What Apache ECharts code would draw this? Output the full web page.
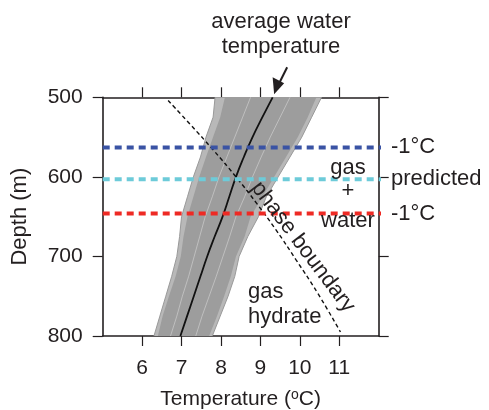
<!DOCTYPE html>
<html>
<head>
<meta charset="utf-8">
<script src="https://cdn.jsdelivr.net/npm/echarts@6/dist/echarts.min.js"></script>
<style>
  html, body { margin: 0; padding: 0; background: #fff; }
  #chart { width: 489px; height: 410px; }
</style>
</head>
<body>
<div id="chart"></div>
<script>
// depth grid (m) shared by the temperature profiles
var depths = [500, 525, 550, 575, 600, 625, 650, 675, 700, 725, 750, 775, 800]
// average water temperature profile (degC)
var meanTemp = [9.31, 9.05, 8.8, 8.58, 8.38, 8.21, 8.04, 7.84, 7.65, 7.48, 7.31, 7.14, 6.97]
// envelope of the dense gray ensemble of profiles
var bandLeft = [8.1, 7.98, 7.8, 7.62, 7.45, 7.3, 7.15, 7.05, 6.98, 6.85, 6.68, 6.52, 6.4]
var bandRight = [10.42, 10.2, 9.95, 9.65, 9.35, 9.05, 8.75, 8.6, 8.38, 8.25, 8.08, 7.9, 7.7]
// outermost single profiles
var edgeLeft = [7.85, 7.8, 7.62, 7.48, 7.3, 7.15, 7.0, 6.95, 6.88, 6.75, 6.6, 6.45, 6.3]
var edgeRight = [10.55, 10.3, 10.05, 9.75, 9.45, 9.15, 8.95, 8.68, 8.46, 8.35, 8.18, 7.98, 7.78]
// a few lighter gaps between profiles
var streakA = [9.75, 9.5, 9.25, 9.02, 8.8, 8.6, 8.38, 8.22, 8.05, 7.88, 7.7, 7.52, 7.36]
var streakB = [8.75, 8.55, 8.35, 8.15, 7.95, 7.78, 7.6, 7.46, 7.32, 7.18, 7.02, 6.88, 6.72]
// hydrate phase boundary
var phaseDepth = [504, 533, 566, 600, 633, 667, 704, 746, 795]
var phaseTemp = [6.66, 7.2, 7.8, 8.38, 8.9, 9.4, 9.9, 10.45, 11.03]
// horizontal reference depths
var refNames = ['-1°C', 'predicted', '-1°C']
var refDepths = [563, 603, 646]
var refColors = ['#3a53a4', '#6dcbd9', '#ee2a24']
var xTicks = [6, 7, 8, 9, 10, 11]

var font = 'Liberation Sans, Arial, sans-serif'
var ink = '#231f20'

function pairs (xs, ys) {
  return xs.map(function (x, i) { return [x, ys[i]] })
}

function bandSeries (left, right, fill, z) {
  return {
    type: 'custom',
    data: [[left[0], depths[0]]],
    renderItem: function (params, api) {
      var pts = []
      for (var i = 0; i < depths.length; i++) pts.push(api.coord([right[i], depths[i]]))
      for (var j = depths.length - 1; j >= 0; j--) pts.push(api.coord([left[j], depths[j]]))
      return { type: 'polygon', shape: { points: pts }, style: { fill: fill } }
    },
    silent: true,
    z: z
  }
}

var chart = echarts.init(document.getElementById('chart'))

var series = [
  bandSeries(edgeLeft, edgeRight, '#b8b8b8', 1),
  bandSeries(bandLeft, bandRight, '#9d9d9d', 2),
  {
    type: 'line', data: pairs(edgeLeft, depths), showSymbol: false,
    lineStyle: { color: '#999', width: 1 }, z: 3
  },
  {
    type: 'line', data: pairs(edgeRight, depths), showSymbol: false,
    lineStyle: { color: '#999', width: 1 }, z: 3
  },
  {
    type: 'line', data: pairs(streakA, depths), showSymbol: false,
    lineStyle: { color: '#fff', width: 1, opacity: 0.35 }, z: 3
  },
  {
    type: 'line', data: pairs(streakB, depths), showSymbol: false,
    lineStyle: { color: '#fff', width: 1, opacity: 0.35 }, z: 3
  },
  {
    type: 'line', data: pairs(meanTemp, depths), showSymbol: false, smooth: true,
    lineStyle: { color: '#111', width: 1.8 }, z: 4
  },
  {
    type: 'line', data: pairs(phaseTemp, phaseDepth), showSymbol: false, smooth: true,
    lineStyle: { color: '#111', width: 1.4, type: [4, 3] }, z: 4
  }
]

refDepths.forEach(function (d, i) {
  series.push({
    type: 'line',
    name: refNames[i],
    data: [[5, d], [12.19, d]],
    showSymbol: false,
    clip: false,
    lineStyle: { color: refColors[i], width: 4, type: [7, 5] },
    endLabel: {
      show: true, formatter: refNames[i], distance: 10,
      color: ink, fontSize: 22, fontFamily: font
    },
    z: 5
  })
})

var axisLine = { show: true, lineStyle: { color: ink, width: 1.6 } }
var axisTick = { show: true, length: 10, lineStyle: { color: ink, width: 1.2 } }

var option = {
  animation: false,
  backgroundColor: '#fff',
  grid: { left: 102.7, right: 110.3, top: 97.3, bottom: 74, containLabel: false, outerBoundsMode: 'none' },
  xAxis: [
    {
      type: 'value', min: 5, max: 12, position: 'bottom',
      axisLine: axisLine,
      axisTick: Object.assign({ customValues: xTicks }, axisTick),
      axisLabel: { customValues: xTicks, margin: 22, color: ink, fontSize: 21, fontFamily: font },
      splitLine: { show: false },
      name: '{t|Temperature (}{s|o}{t|C)}',
      nameLocation: 'middle',
      nameGap: 52,
      nameTextStyle: {
        rich: {
          t: { fontSize: 21, fontFamily: font, color: ink },
          s: { fontSize: 14, fontFamily: font, color: ink, verticalAlign: 'top', padding: [0, 0, 8, 0] }
        }
      }
    },
    {
      type: 'value', min: 5, max: 12, position: 'top',
      axisLine: axisLine,
      axisTick: Object.assign({ customValues: xTicks }, axisTick),
      axisLabel: { show: false },
      splitLine: { show: false }
    }
  ],
  yAxis: [
    {
      type: 'value', min: 500, max: 800, interval: 100, inverse: true, position: 'left',
      axisLine: axisLine, axisTick: axisTick,
      axisLabel: { margin: 20, color: ink, fontSize: 21, fontFamily: font },
      splitLine: { show: false },
      name: 'Depth (m)',
      nameLocation: 'middle',
      nameGap: 72,
      nameTextStyle: { fontSize: 22, fontFamily: font, color: ink }
    },
    {
      type: 'value', min: 500, max: 800, interval: 100, inverse: true, position: 'right',
      axisLine: axisLine, axisTick: axisTick,
      axisLabel: { show: false },
      splitLine: { show: false }
    }
  ],
  series: series
}

chart.setOption(option)

// annotations
var tip = chart.convertToPixel({ gridIndex: 0 }, [meanTemp[0], depths[0]])
var tx = tip[0] + 1.5
var ty = tip[1] - 3
var textStyle = function (t, x, y, align) {
  return {
    type: 'text', x: x, y: y, z: 20,
    style: { text: t, fill: ink, font: '22px ' + font, textAlign: align || 'center', textVerticalAlign: 'middle' }
  }
}

chart.setOption({
  graphic: [
    textStyle('average water', 281, 22),
    textStyle('temperature', 281, 47),
    {
      type: 'line', z: 20,
      shape: { x1: tx + 13, y1: ty - 27, x2: tx + 4, y2: ty - 9 },
      style: { stroke: ink, lineWidth: 2 }
    },
    {
      type: 'polygon', z: 20,
      shape: { points: [[tx, ty], [tx - 1.5, ty - 17], [tx + 10, ty - 11]] },
      style: { fill: ink }
    },
    textStyle('gas', 348, 168),
    textStyle('+', 348, 191),
    textStyle('water', 348, 221),
    textStyle('gas', 248, 292, 'left'),
    textStyle('hydrate', 248, 317, 'left'),
    {
      type: 'text', x: 303, y: 247, z: 20, rotation: -53 * Math.PI / 180,
      style: { text: 'phase boundary', fill: ink, font: '22px ' + font, textAlign: 'center', textVerticalAlign: 'middle' }
    }
  ]
})
</script>
</body>
</html>
